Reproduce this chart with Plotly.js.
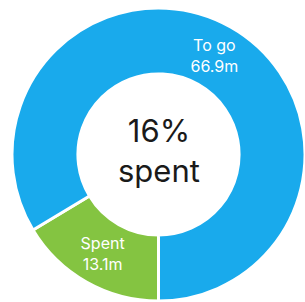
<!DOCTYPE html>
<html>
<head>
<meta charset="utf-8">
<script src="https://cdn.plot.ly/plotly-3.0.1.min.js"></script>
<style>html,body{margin:0;padding:0;background:#fff;}#chart{width:305px;height:302px;}</style>
</head>
<body>
<div id="chart"></div>
<script>
var labels = ["Spent", "To go"];
var values = [13.1, 66.9];
var colors = ["#84c441", "#19aaec"];
var centerText = "16%<br>spent";

var trace = {
  type: "pie",
  labels: labels,
  values: values,
  hole: 0.55,
  sort: false,
  direction: "clockwise",
  rotation: 180,
  marker: {colors: colors, line: {color: "#ffffff", width: 3}},
  texttemplate: "%{label}<br>%{value:.1f}m",
  textposition: "inside",
  insidetextorientation: "horizontal",
  textfont: {family: "Inter, sans-serif", size: 16, color: "#ffffff"},
  showlegend: false,
  hoverinfo: "none"
};

var layout = {
  width: 305,
  height: 302,
  margin: {l: 12, r: 0, t: 7, b: 0},
  paper_bgcolor: "#ffffff",
  annotations: [{
    text: centerText,
    x: 0.5, y: 0.5, xref: "paper", yref: "paper",
    yshift: 4,
    showarrow: false,
    font: {family: "Inter, sans-serif", size: 31, color: "#1a1a1a"}
  }]
};

Plotly.newPlot("chart", [trace], layout, {displayModeBar: false, staticPlot: true});
</script>
</body>
</html>
